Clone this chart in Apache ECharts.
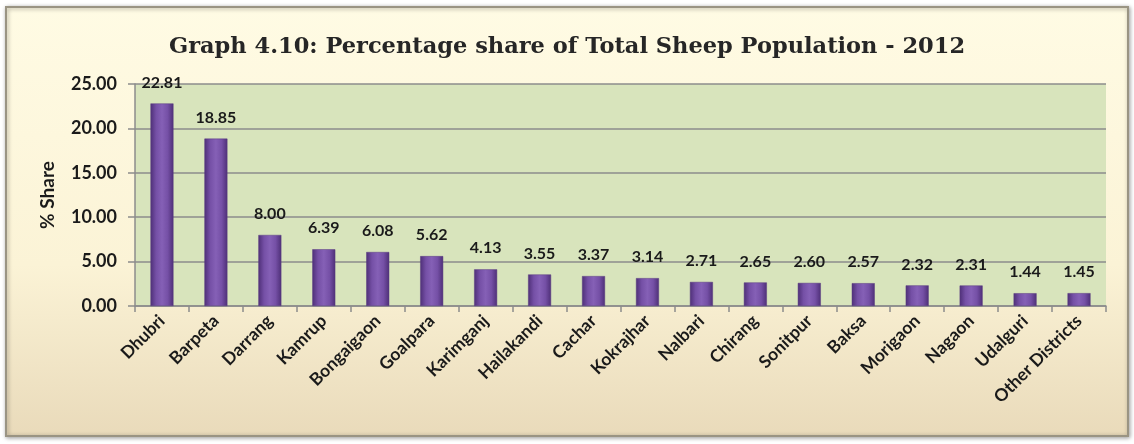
<!DOCTYPE html>
<html>
<head>
<meta charset="utf-8">
<script src="https://cdn.jsdelivr.net/npm/echarts@6/dist/echarts.min.js"></script>
<style>html,body{margin:0;padding:0;background:#fff;}#c{width:1134px;height:444px;}</style>
</head>
<body>
<div id="c"></div>
<script>
var titleText = 'Graph 4.10: Percentage share of Total Sheep Population - 2012';
var yAxisName = '% Share';
var districts = ['Dhubri','Barpeta','Darrang','Kamrup','Bongaigaon','Goalpara','Karimganj','Hailakandi','Cachar','Kokrajhar','Nalbari','Chirang','Sonitpur','Baksa','Morigaon','Nagaon','Udalguri','Other Districts'];
var shares = [22.81,18.85,8.00,6.39,6.08,5.62,4.13,3.55,3.37,3.14,2.71,2.65,2.60,2.57,2.32,2.31,1.44,1.45];
var yTicks = {min: 0, max: 25, interval: 5};

var chart = echarts.init(document.getElementById('c'));
chart.setOption({
  animation: false,
  backgroundColor: '#ffffff',
  graphic: [{
    type: 'rect',
    z: -10,
    shape: {x: 6, y: 7, width: 1122, height: 429},
    style: {
      fill: new echarts.graphic.LinearGradient(0, 0, 0, 1, [
        {offset: 0, color: '#FFFBE4'},
        {offset: 0.6, color: '#FBF3D6'},
        {offset: 1, color: '#E9DABA'}
      ]),
      stroke: '#9a9483',
      lineWidth: 2,
      shadowBlur: 4,
      shadowColor: 'rgba(0,0,0,0.35)',
      shadowOffsetX: 1,
      shadowOffsetY: 1
    }
  }],
  title: {
    text: titleText,
    left: 'center',
    top: 31,
    textStyle: {fontFamily: 'DejaVu Serif', fontWeight: 'bold', fontSize: 22.5, color: '#262626'}
  },
  grid: {
    left: 135, right: 28, top: 84, bottom: 138,
    show: true, backgroundColor: '#D8E4BC', borderWidth: 0
  },
  xAxis: {
    type: 'category',
    data: districts,
    axisLine: {lineStyle: {color: '#8c8c8c', width: 1.5}},
    axisTick: {show: true, length: 6, lineStyle: {color: '#8c8c8c', width: 1.5}},
    axisLabel: {rotate: 45, interval: 0, margin: 12, fontFamily: 'Lato', fontWeight: 'bold', fontSize: 17.5, color: '#1a1a1a'}
  },
  yAxis: {
    type: 'value',
    min: yTicks.min, max: yTicks.max, interval: yTicks.interval,
    name: yAxisName,
    nameLocation: 'middle',
    nameGap: 78,
    nameTextStyle: {fontFamily: 'Lato', fontWeight: 'bold', fontSize: 19, color: '#1a1a1a'},
    axisLine: {show: true, lineStyle: {color: '#8c8c8c', width: 1.5}},
    axisTick: {show: true, length: 7, lineStyle: {color: '#8c8c8c', width: 1.5}},
    splitLine: {lineStyle: {color: '#8c8c8c', width: 1.5}},
    axisLabel: {margin: 18, fontFamily: 'Lato', fontWeight: 'bold', fontSize: 18, color: '#1a1a1a',
      formatter: function (v) { return v.toFixed(2); }}
  },
  series: [{
    type: 'bar',
    data: shares,
    barWidth: 23,
    itemStyle: {
      color: new echarts.graphic.LinearGradient(0, 0, 1, 0, [
        {offset: 0, color: '#4E2F77'},
        {offset: 0.25, color: '#7550A6'},
        {offset: 0.5, color: '#8560B6'},
        {offset: 0.75, color: '#7550A6'},
        {offset: 1, color: '#4E2F77'}
      ]),
      borderColor: '#5a3d80',
      borderWidth: 0.5
    },
    label: {
      show: true, position: 'top', distance: 13,
      fontFamily: 'Lato', fontWeight: 'bold', fontSize: 16, color: '#1a1a1a',
      formatter: function (p) { return p.value.toFixed(2); }
    }
  }]
});
</script>
</body>
</html>
